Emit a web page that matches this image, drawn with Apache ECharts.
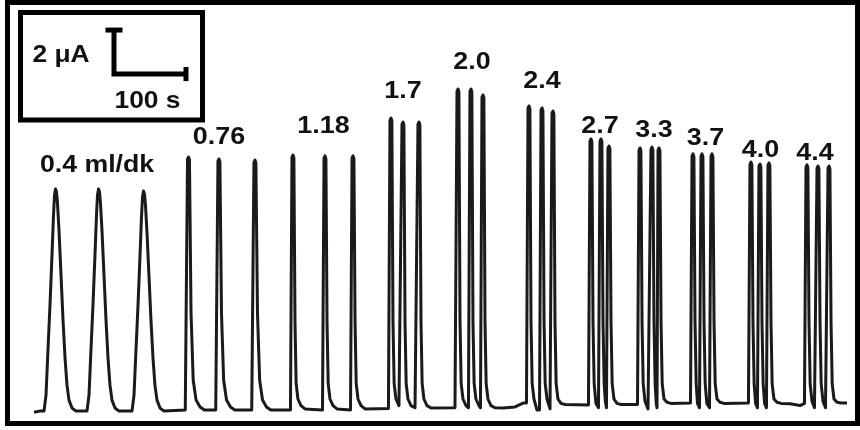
<!DOCTYPE html>
<html>
<head>
<meta charset="utf-8">
<script src="https://cdn.jsdelivr.net/npm/echarts@6/dist/echarts.min.js"></script>
<style>
  html, body { margin: 0; padding: 0; background: #fff; }
  #chart { width: 860px; height: 430px; }
</style>
</head>
<body>
<div id="chart"></div>
<script>
// Flow-injection current trace: three injections at each flow rate.
// Time in seconds, current in microamperes.
const flowLabels = ['0.4 ml/dk', '0.76', '1.18', '1.7', '2.0', '2.4', '2.7', '3.3', '3.7', '4.0', '4.4'];

const g04 = [
  [0, -0.1], [8, -0.05],
  [13.9, -0.05], [16.7, 0.68], [19.4, 2.73], [22.2, 4.77], [25.0, 7.05], [27.1, 8.86], [28.5, 9.77], [29.9, 10.05], [31.3, 9.91], [32.6, 9.41], [34.7, 8.18], [37.5, 6.14], [40.3, 4.09], [43.1, 2.36], [45.8, 1.14], [48.6, 0.45], [52.8, 0.09], [58.3, -0.05],
  [73.6, -0.05], [76.4, 0.68], [79.1, 2.73], [81.9, 4.77], [84.7, 7.05], [86.8, 8.86], [88.2, 9.77], [89.6, 10.05], [91.0, 9.91], [92.3, 9.41], [94.4, 8.18], [97.2, 6.14], [100.0, 4.09], [102.8, 2.36], [105.5, 1.14], [108.3, 0.45], [112.5, 0.09], [118.0, -0.05],
  [136.1, -0.05], [138.9, 0.67], [141.6, 2.7], [144.4, 4.72], [147.2, 6.98], [149.3, 8.77], [150.7, 9.67], [152.1, 9.95], [153.5, 9.81], [154.8, 9.32], [156.9, 8.1], [159.7, 6.08], [162.5, 4.05], [165.3, 2.34], [168.0, 1.13], [170.8, 0.45], [175.0, 0.09], [180.5, -0.05]
];
const g076 = [
  [210.1, 0], [213.2, 11.4], [214.6, 11.5], [215.9, 11.38], [218.1, 4.41], [221.1, 1.36], [225.1, 0.45], [230.6, 0.14], [236.6, 0],
  [252.4, 0], [255.5, 11.31], [256.9, 11.41], [258.2, 11.29], [260.4, 4.41], [263.4, 1.36], [267.4, 0.45], [272.9, 0.14], [278.9, 0],
  [302.4, 0], [305.5, 11.26], [306.9, 11.36], [308.2, 11.24], [310.4, 4.41], [313.4, 1.36], [317.4, 0.45], [322.9, 0.14], [328.9, 0]
];
const g118 = [
  [356.2, 0], [358.3, 11.49], [359.7, 11.59], [360.95, 11.46], [362.5, 4.0], [364.1, 1.2], [366.6, 0.5], [370.8, 0.2], [376.4, 0.05],
  [400.7, 0], [402.8, 11.45], [404.2, 11.55], [405.45, 11.42], [407.0, 4.0], [408.6, 1.2], [411.1, 0.5], [415.3, 0.2], [420.9, 0.05],
  [439.6, 0], [441.7, 11.45], [443.1, 11.55], [444.35, 11.42], [445.9, 4.0], [447.5, 1.2], [450.0, 0.5], [454.2, 0.2], [459.8, 0.05]
];
const g17 = [
  [492.3, 0.07], [494.4, 13.17], [495.8, 13.27], [497.05, 13.14], [498.6, 4.0], [500.2, 1.2], [502.7, 0.5], [506.9, 0.2],
  [509.0, 0.15], [511.1, 12.99], [512.5, 13.09], [513.75, 12.96], [515.3, 4.0], [516.9, 1.2], [519.4, 0.5], [523.6, 0.2], [529.2, 0.1],
  [531.2, 0.1], [533.3, 12.99], [534.7, 13.09], [535.95, 12.96], [537.5, 4.0], [539.1, 1.2], [541.6, 0.5], [545.8, 0.2], [551.4, 0.09]
];
const g20 = [
  [584.7, 0.1], [585.4, 0.09], [587.5, 14.49], [588.9, 14.59], [590.15, 14.46], [591.7, 4.0], [593.3, 1.2], [595.8, 0.5], [600.0, 0.2],
  [603.4, 0.1], [605.5, 14.49], [606.9, 14.59], [608.15, 14.46], [609.7, 4.0], [611.3, 1.2], [613.8, 0.5], [618.0, 0.2],
  [620.1, 0.1], [622.2, 14.22], [623.6, 14.32], [624.85, 14.19], [626.4, 4.0], [628.0, 1.2], [630.5, 0.5], [634.7, 0.2], [640.3, 0.1], [651.4, 0.09], [668.0, 0.14], [680.0, 0.32]
];
const g24 = [
  [684.0, 0.32], [686.1, 13.72], [687.5, 13.82], [688.75, 13.69], [690.3, 4.0], [691.9, 1.2], [694.4, 0.5], [698.6, 0.0],
  [702.1, 0.0], [704.2, 13.63], [705.6, 13.73], [706.85, 13.6], [708.4, 4.0], [710.0, 1.2], [712.5, 0.5], [716.7, 0.05],
  [717.3, 0.05], [719.4, 13.49], [720.8, 13.59], [722.05, 13.46], [723.6, 4.0], [725.2, 1.2], [727.7, 0.5], [731.9, 0.3], [737.5, 0.25]
];
const g27 = [
  [770.1, 0.23], [772.2, 12.22], [773.6, 12.32], [774.85, 12.19], [776.4, 4.0], [778.0, 1.2], [780.5, 0.3],
  [784.0, 0.1], [786.1, 12.22], [787.5, 12.32], [788.75, 12.19], [790.3, 4.0], [791.9, 1.2], [793.5, 0.4],
  [795.1, 0.1], [797.2, 11.9], [798.6, 12.0], [799.85, 11.87], [801.4, 4.0], [803.0, 1.2], [805.5, 0.5], [809.7, 0.3], [815.3, 0.25]
];
const g33 = [
  [838.2, 0.25], [840.3, 11.81], [841.7, 11.91], [842.95, 11.78], [844.5, 4.0], [846.1, 1.2], [848.6, 0.4], [852.8, 0.05],
  [854.8, 0.05], [856.9, 11.85], [858.3, 11.95], [859.55, 11.82], [861.1, 4.0], [862.7, 1.2], [864.2, 0.3],
  [865.3, 0.1], [866.7, 11.81], [868.1, 11.91], [869.35, 11.78], [870.9, 4.0], [872.5, 1.2], [875.0, 0.5], [879.2, 0.35], [884.8, 0.3]
];
const g37 = [
  [911.8, 0.32], [913.9, 11.54], [915.3, 11.64], [916.55, 11.51], [918.1, 4.0], [919.7, 1.2], [921.5, 0.3],
  [924.3, 0.1], [926.4, 11.54], [927.8, 11.64], [929.05, 11.51], [930.6, 4.0], [932.2, 1.2], [934.5, 0.3],
  [938.2, 0.1], [940.3, 11.54], [941.7, 11.64], [942.95, 11.51], [944.5, 4.0], [946.1, 1.2], [948.6, 0.5], [952.8, 0.35], [958.4, 0.3]
];
const g40 = [
  [992.3, 0.32], [994.4, 11.17], [995.8, 11.27], [997.05, 11.14], [998.6, 4.0], [1000.2, 1.2], [1002.2, 0.3],
  [1004.8, 0.1], [1006.9, 11.08], [1008.3, 11.18], [1009.55, 11.05], [1011.1, 4.0], [1012.7, 1.2], [1014.7, 0.3],
  [1017.3, 0.1], [1019.4, 11.13], [1020.8, 11.23], [1022.05, 11.1], [1023.6, 4.0], [1025.2, 1.2], [1027.7, 0.5], [1031.9, 0.35], [1037.5, 0.3], [1050.0, 0.28], [1063.9, 0.2]
];
const g44 = [
  [1070.1, 0.3], [1072.2, 11.04], [1073.6, 11.14], [1074.85, 11.01], [1076.4, 4.0], [1078.0, 1.2], [1080.5, 0.4], [1084.0, 0.1],
  [1085.4, 0.1], [1087.5, 10.99], [1088.9, 11.09], [1090.15, 10.96], [1091.7, 4.0], [1093.3, 1.2], [1095.8, 0.4], [1099.3, 0.1],
  [1100.7, 0.1], [1102.8, 10.99], [1104.2, 11.09], [1105.45, 10.96], [1107.0, 4.0], [1108.6, 1.2], [1111.1, 0.5], [1115.3, 0.35], [1120.9, 0.32], [1129.2, 0.32]
];

// Scale bar: 2 µA vertical, 100 s horizontal
const scaleCurrent = 2;
const scaleTime = 100;

const trace = [].concat(g04, g076, g118, g17, g20, g24, g27, g33, g37, g40, g44);

// Layout
const barOrigin = [111.1, 15.27];          // corner of the scale bar (s, µA)
const labelAnchors = [                       // centre of each label (px)
  [97, 165.5], [219, 137], [323.5, 126.5], [403, 91], [472, 62.5], [542, 81],
  [600, 126], [654, 130], [705.5, 138], [760.5, 150], [815, 153]
];
const labelFont = 'bold 24px "Liberation Sans", Arial, sans-serif';

const bx = barOrigin[0], by = barOrigin[1];
const scaleBarSeries = [
  [[bx, by + scaleCurrent], [bx, by], [bx + scaleTime, by]],
  [[bx - 11.8, by + scaleCurrent], [bx + 11.8, by + scaleCurrent]],
  [[bx + scaleTime, by - 0.32], [bx + scaleTime, by + 0.32]]
].map(pts => ({
  type: 'line',
  data: pts,
  showSymbol: false,
  clip: false,
  silent: true,
  lineStyle: { color: '#000', width: 5, cap: 'butt', join: 'miter' },
  z: 5
}));

function label(txt, x, y, sx, font) {
  return {
    type: 'text', x: x, y: y, scaleX: sx, z: 10,
    style: { text: txt, font: font || labelFont, fill: '#111', textAlign: 'center', textVerticalAlign: 'middle' }
  };
}

const chart = echarts.init(document.getElementById('chart'), null, { renderer: 'canvas' });

const graphics = [
  { type: 'rect', shape: { x: 7.5, y: 2.5, width: 850, height: 421 },
    style: { fill: 'none', stroke: '#000', lineWidth: 5 }, z: 10 },
  { type: 'rect', shape: { x: 20.5, y: 12.5, width: 182, height: 107.5 },
    style: { fill: 'none', stroke: '#000', lineWidth: 5 }, z: 10 },
  label('2 μA', 61, 55, 1.1),
  label('100 s', 147.5, 101, 1.1)
];
flowLabels.forEach((txt, i) => {
  const first = i === 0;
  graphics.push(label(txt, labelAnchors[i][0], labelAnchors[i][1], first ? 1.16 : 1.12,
    first ? 'bold 23px "Liberation Sans", Arial, sans-serif' : labelFont));
});

chart.setOption({
  animation: false,
  backgroundColor: '#fff',
  grid: { left: 34, right: 12.4, top: 14, bottom: 9 },
  xAxis: { type: 'value', min: 0, max: 1130, show: false },
  yAxis: { type: 'value', min: -0.5, max: 18, show: false },
  series: [
    {
      type: 'line',
      data: trace,
      showSymbol: false,
      clip: false,
      silent: true,
      lineStyle: { color: '#1a1a1a', width: 3, join: 'round' },
      z: 3
    }
  ].concat(scaleBarSeries),
  graphic: graphics
});
</script>
</body>
</html>
